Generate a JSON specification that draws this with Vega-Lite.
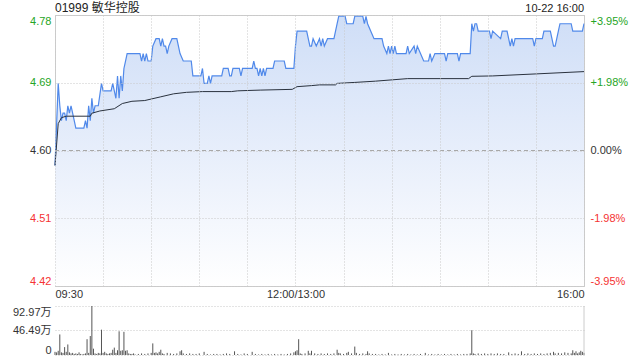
{
  "$schema": "https://vega.github.io/schema/vega-lite/v6.json",
  "background": "white",
  "padding": {"left": 12, "top": 1, "right": 5, "bottom": 5},
  "config": {
    "font": "Liberation Sans, Arial, Noto Sans CJK SC, sans-serif",
    "view": {"stroke": "#cccccc"},
    "axis": {"labelFontSize": 11, "labelColor": "#333333", "gridColor": "#c8c8c8", "gridDash": [1, 2], "ticks": false, "domain": false, "labelFont": "Liberation Sans, Arial, Noto Sans CJK SC, sans-serif"}
  },
  "datasets": {
    "price": [
      {"t":0,"p":4.58},{"t":2,"p":4.69},{"t":3,"p":4.66},{"t":4,"p":4.64},{"t":5,"p":4.65},{"t":6,"p":4.65},{"t":7,"p":4.64},{"t":8,"p":4.66},{"t":9,"p":4.65},{"t":10,"p":4.66},{"t":11,"p":4.65},{"t":12,"p":4.64},{"t":13,"p":4.63},{"t":18,"p":4.63},{"t":19,"p":4.64},{"t":20,"p":4.63},{"t":21,"p":4.66},{"t":22,"p":4.64},{"t":23,"p":4.67},{"t":24,"p":4.65},{"t":25,"p":4.66},{"t":27,"p":4.66},{"t":29,"p":4.69},{"t":30,"p":4.68},{"t":35,"p":4.68},{"t":36,"p":4.69},{"t":37,"p":4.68},{"t":38,"p":4.67},{"t":39,"p":4.70},{"t":40,"p":4.67},{"t":41,"p":4.70},{"t":42,"p":4.68},{"t":43,"p":4.71},{"t":44,"p":4.72},{"t":45,"p":4.73},{"t":53,"p":4.73},{"t":54,"p":4.72},{"t":55,"p":4.73},{"t":56,"p":4.72},{"t":57,"p":4.73},{"t":58,"p":4.72},{"t":60,"p":4.72},{"t":61,"p":4.74},{"t":63,"p":4.75},{"t":65,"p":4.75},{"t":66,"p":4.74},{"t":67,"p":4.75},{"t":68,"p":4.74},{"t":69,"p":4.74},{"t":70,"p":4.73},{"t":71,"p":4.74},{"t":73,"p":4.75},{"t":76,"p":4.75},{"t":77,"p":4.74},{"t":78,"p":4.73},{"t":80,"p":4.72},{"t":85,"p":4.72},{"t":86,"p":4.70},{"t":91,"p":4.70},{"t":92,"p":4.71},{"t":93,"p":4.69},{"t":95,"p":4.69},{"t":96,"p":4.70},{"t":97,"p":4.69},{"t":98,"p":4.70},{"t":104,"p":4.70},{"t":105,"p":4.71},{"t":108,"p":4.71},{"t":109,"p":4.70},{"t":110,"p":4.70},{"t":111,"p":4.71},{"t":115,"p":4.71},{"t":116,"p":4.70},{"t":117,"p":4.71},{"t":123,"p":4.71},{"t":124,"p":4.72},{"t":125,"p":4.71},{"t":126,"p":4.71},{"t":127,"p":4.70},{"t":128,"p":4.71},{"t":129,"p":4.70},{"t":130,"p":4.71},{"t":131,"p":4.70},{"t":132,"p":4.71},{"t":136,"p":4.71},{"t":137,"p":4.72},{"t":143,"p":4.72},{"t":144,"p":4.71},{"t":149,"p":4.71},{"t":150,"p":4.74},{"t":151,"p":4.76},{"t":157,"p":4.76},{"t":158,"p":4.75},{"t":159,"p":4.74},{"t":160,"p":4.74},{"t":161,"p":4.75},{"t":163,"p":4.74},{"t":165,"p":4.75},{"t":166,"p":4.74},{"t":167,"p":4.75},{"t":168,"p":4.74},{"t":170,"p":4.75},{"t":174,"p":4.75},{"t":175,"p":4.76},{"t":176,"p":4.77},{"t":177,"p":4.78},{"t":181,"p":4.78},{"t":182,"p":4.77},{"t":186,"p":4.77},{"t":187,"p":4.78},{"t":192,"p":4.78},{"t":193,"p":4.77},{"t":194,"p":4.78},{"t":195,"p":4.77},{"t":197,"p":4.76},{"t":199,"p":4.75},{"t":204,"p":4.75},{"t":205,"p":4.74},{"t":207,"p":4.73},{"t":208,"p":4.74},{"t":209,"p":4.73},{"t":210,"p":4.74},{"t":211,"p":4.73},{"t":212,"p":4.74},{"t":213,"p":4.73},{"t":219,"p":4.73},{"t":220,"p":4.74},{"t":221,"p":4.73},{"t":224,"p":4.74},{"t":225,"p":4.73},{"t":226,"p":4.74},{"t":228,"p":4.73},{"t":230,"p":4.72},{"t":233,"p":4.72},{"t":234,"p":4.73},{"t":235,"p":4.72},{"t":237,"p":4.73},{"t":243,"p":4.73},{"t":244,"p":4.72},{"t":245,"p":4.73},{"t":251,"p":4.73},{"t":252,"p":4.72},{"t":253,"p":4.73},{"t":259,"p":4.73},{"t":260,"p":4.77},{"t":261,"p":4.76},{"t":262,"p":4.77},{"t":263,"p":4.77},{"t":264,"p":4.76},{"t":271,"p":4.76},{"t":272,"p":4.75},{"t":273,"p":4.76},{"t":278,"p":4.75},{"t":279,"p":4.76},{"t":282,"p":4.76},{"t":283,"p":4.75},{"t":284,"p":4.74},{"t":285,"p":4.75},{"t":286,"p":4.74},{"t":287,"p":4.75},{"t":298,"p":4.75},{"t":299,"p":4.74},{"t":300,"p":4.75},{"t":304,"p":4.75},{"t":305,"p":4.76},{"t":309,"p":4.76},{"t":310,"p":4.75},{"t":311,"p":4.74},{"t":312,"p":4.74},{"t":313,"p":4.75},{"t":314,"p":4.76},{"t":315,"p":4.77},{"t":322,"p":4.77},{"t":323,"p":4.76},{"t":329,"p":4.76},{"t":330,"p":4.77}
    ],
    "avg": [
      {"t":0,"a":4.58},{"t":2,"a":4.636},{"t":4,"a":4.644},{"t":7,"a":4.646},{"t":22,"a":4.646},{"t":23,"a":4.65},{"t":28,"a":4.653},{"t":37,"a":4.656},{"t":42,"a":4.663},{"t":48,"a":4.666},{"t":56,"a":4.667},{"t":60,"a":4.669},{"t":66,"a":4.672},{"t":74,"a":4.676},{"t":82,"a":4.678},{"t":92,"a":4.679},{"t":110,"a":4.679},{"t":114,"a":4.68},{"t":128,"a":4.681},{"t":148,"a":4.682},{"t":151,"a":4.6856},{"t":160,"a":4.687},{"t":165,"a":4.688},{"t":175,"a":4.688},{"t":176,"a":4.69},{"t":187,"a":4.6913},{"t":200,"a":4.693},{"t":220,"a":4.6964},{"t":258,"a":4.6964},{"t":260,"a":4.6995},{"t":273,"a":4.70},{"t":300,"a":4.7027},{"t":330,"a":4.7058}
    ],
    "vol": [
      {"t":0,"v":6},{"t":1,"v":5},{"t":2,"v":8},{"t":3,"v":39},{"t":4,"v":5},{"t":5,"v":4},{"t":6,"v":15},{"t":7,"v":6},{"t":8,"v":20},{"t":9,"v":5},{"t":10,"v":3},{"t":11,"v":4},{"t":12,"v":2},{"t":13,"v":3},{"t":14,"v":2},{"t":15,"v":5},{"t":16,"v":2},{"t":17,"v":1},{"t":18,"v":2},{"t":19,"v":3},{"t":20,"v":30},{"t":21,"v":4},{"t":22,"v":36},{"t":23,"v":92.97},{"t":24,"v":12},{"t":25,"v":3},{"t":26,"v":2},{"t":27,"v":4},{"t":28,"v":3},{"t":29,"v":48},{"t":30,"v":4},{"t":31,"v":6},{"t":32,"v":3},{"t":33,"v":2},{"t":34,"v":3},{"t":35,"v":4},{"t":36,"v":10},{"t":37,"v":14},{"t":38,"v":4},{"t":39,"v":9},{"t":40,"v":45},{"t":41,"v":8},{"t":42,"v":9},{"t":43,"v":44},{"t":44,"v":8},{"t":45,"v":9},{"t":46,"v":3},{"t":47,"v":2},{"t":48,"v":2},{"t":49,"v":3},{"t":50,"v":1},{"t":52,"v":2},{"t":54,"v":3},{"t":56,"v":2},{"t":58,"v":3},{"t":60,"v":4},{"t":61,"v":22},{"t":62,"v":4},{"t":63,"v":5},{"t":64,"v":3},{"t":65,"v":6},{"t":66,"v":10},{"t":67,"v":3},{"t":68,"v":2},{"t":70,"v":4},{"t":72,"v":3},{"t":74,"v":2},{"t":76,"v":3},{"t":78,"v":7},{"t":79,"v":9},{"t":80,"v":3},{"t":82,"v":2},{"t":84,"v":3},{"t":86,"v":2},{"t":88,"v":2},{"t":90,"v":3},{"t":93,"v":6},{"t":95,"v":2},{"t":97,"v":1},{"t":99,"v":2},{"t":101,"v":2},{"t":103,"v":1},{"t":105,"v":2},{"t":107,"v":3},{"t":109,"v":2},{"t":112,"v":7},{"t":114,"v":2},{"t":116,"v":1},{"t":118,"v":3},{"t":120,"v":2},{"t":123,"v":6},{"t":125,"v":2},{"t":127,"v":1},{"t":129,"v":2},{"t":131,"v":1},{"t":133,"v":2},{"t":135,"v":1},{"t":137,"v":2},{"t":139,"v":1},{"t":141,"v":2},{"t":143,"v":1},{"t":145,"v":2},{"t":147,"v":3},{"t":149,"v":5},{"t":150,"v":7},{"t":151,"v":9},{"t":152,"v":30},{"t":153,"v":3},{"t":154,"v":2},{"t":156,"v":3},{"t":158,"v":8},{"t":159,"v":3},{"t":160,"v":8},{"t":162,"v":3},{"t":164,"v":2},{"t":166,"v":3},{"t":168,"v":2},{"t":170,"v":3},{"t":172,"v":2},{"t":174,"v":3},{"t":176,"v":10},{"t":177,"v":4},{"t":178,"v":3},{"t":180,"v":2},{"t":182,"v":4},{"t":183,"v":6},{"t":185,"v":3},{"t":187,"v":16},{"t":188,"v":4},{"t":190,"v":2},{"t":192,"v":3},{"t":194,"v":2},{"t":195,"v":7},{"t":196,"v":3},{"t":198,"v":2},{"t":200,"v":2},{"t":202,"v":1},{"t":204,"v":2},{"t":206,"v":1},{"t":208,"v":4},{"t":210,"v":1},{"t":212,"v":2},{"t":214,"v":1},{"t":216,"v":2},{"t":218,"v":1},{"t":220,"v":2},{"t":222,"v":1},{"t":224,"v":2},{"t":226,"v":1},{"t":228,"v":2},{"t":231,"v":4},{"t":233,"v":1},{"t":235,"v":2},{"t":237,"v":1},{"t":239,"v":2},{"t":241,"v":1},{"t":243,"v":2},{"t":245,"v":1},{"t":247,"v":2},{"t":249,"v":1},{"t":251,"v":2},{"t":253,"v":1},{"t":255,"v":2},{"t":257,"v":2},{"t":259,"v":3},{"t":260,"v":47},{"t":261,"v":3},{"t":262,"v":2},{"t":264,"v":3},{"t":266,"v":2},{"t":268,"v":3},{"t":270,"v":2},{"t":272,"v":3},{"t":274,"v":2},{"t":276,"v":3},{"t":278,"v":2},{"t":280,"v":2},{"t":283,"v":5},{"t":285,"v":2},{"t":287,"v":3},{"t":289,"v":2},{"t":291,"v":7},{"t":293,"v":2},{"t":295,"v":3},{"t":297,"v":2},{"t":299,"v":3},{"t":301,"v":2},{"t":303,"v":3},{"t":305,"v":2},{"t":307,"v":3},{"t":309,"v":4},{"t":311,"v":6},{"t":312,"v":3},{"t":314,"v":4},{"t":316,"v":3},{"t":318,"v":5},{"t":320,"v":4},{"t":322,"v":3},{"t":323,"v":9},{"t":324,"v":4},{"t":325,"v":7},{"t":326,"v":3},{"t":327,"v":5},{"t":328,"v":8},{"t":329,"v":6},{"t":330,"v":4}
    ]
  },
  "spacing": 20,
  "bounds": "flush",
  "vconcat": [
    {
      "width": 529,
      "height": 271,
      "layer": [
        {
          "layer": [
            {
              "data": {"name": "price"},
              "mark": {"type": "area", "fill": {"gradient": "linear", "x1": 0, "y1": 0, "x2": 0, "y2": 1, "stops": [{"offset": 0, "color": "#cfdef7"}, {"offset": 0.5, "color": "#e7eefb"}, {"offset": 1, "color": "#ffffff"}]}},
              "encoding": {
                "x": {"field": "t", "type": "quantitative", "scale": {"domain": [0, 330], "nice": false, "zero": false},
                  "axis": {"title": null, "zindex": 1, "values": [0, 30, 60, 90, 120, 150, 180, 210, 240, 270, 300, 330], "grid": true, "labelFlush": true, "labelOverlap": false, "labelPadding": 2,
                    "labelExpr": "datum.value == 0 ? '09:30' : datum.value == 150 ? '12:00/13:00' : datum.value == 330 ? '16:00' : ''"}},
                "y": {"field": "p", "type": "quantitative", "scale": {"domain": [4.4183, 4.7817], "nice": false, "zero": false},
                  "axis": {"title": null, "zindex": 1, "values": [4.4183, 4.50915, 4.6, 4.69085, 4.7817], "format": ".2f", "grid": true, "labelFlush": true, "labelPadding": 4,
                    "labelColor": {"condition": [{"test": "datum.value > 4.605", "value": "#25a525"}, {"test": "datum.value < 4.595", "value": "#f53333"}], "value": "#333333"}}},
                "y2": {"datum": 4.4183}
              }
            },
            {
              "data": {"name": "price"},
              "mark": {"type": "line", "color": "#5089ea", "strokeWidth": 1.2},
              "encoding": {"x": {"field": "t", "type": "quantitative"}, "y": {"field": "p", "type": "quantitative"}}
            },
            {
              "data": {"name": "avg"},
              "mark": {"type": "line", "color": "#2a323e", "strokeWidth": 1},
              "encoding": {"x": {"field": "t", "type": "quantitative"}, "y": {"field": "a", "type": "quantitative"}}
            },
            {
              "data": {"values": [{}]},
              "mark": {"type": "rule", "color": "#a8a8a8", "strokeDash": [4, 3]},
              "encoding": {"y": {"datum": 4.6}}
            },
            {
              "data": {"values": [{}]},
              "mark": {"type": "text", "text": "01999 敏华控股", "align": "left", "baseline": "alphabetic", "dy": -3, "fontSize": 12, "color": "#222222"},
              "encoding": {"x": {"datum": 0}, "y": {"datum": 4.7817}}
            },
            {
              "data": {"values": [{}]},
              "mark": {"type": "text", "text": "10-22 16:00", "align": "right", "baseline": "alphabetic", "dy": -3, "fontSize": 11, "color": "#222222"},
              "encoding": {"x": {"datum": 330}, "y": {"datum": 4.7817}}
            }
          ]
        },
        {
          "data": {"values": [{}]},
          "mark": {"type": "rule", "opacity": 0},
          "encoding": {
            "y": {"datum": 0, "type": "quantitative", "scale": {"domain": [-3.95, 3.95], "nice": false, "zero": false},
              "axis": {"orient": "right", "title": null, "grid": false, "values": [-3.95, -1.976, 0, 1.976, 3.95], "labelFlush": true, "labelPadding": 6,
                "labelExpr": "datum.value > 0 ? '+' + format(datum.value, '.2f') + '%' : datum.value < 0 ? '-' + format(-datum.value, '.2f') + '%' : '0.00%'",
                "labelColor": {"condition": [{"test": "datum.value > 0.01", "value": "#25a525"}, {"test": "datum.value < -0.01", "value": "#f53333"}], "value": "#333333"}}}
          }
        }
      ],
      "resolve": {"scale": {"y": "independent"}, "axis": {"y": "independent"}}
    },
    {
      "width": 529,
      "height": 49,
      "view": {"stroke": null},
      "data": {"name": "vol"},
      "layer": [
        {
          "mark": {"type": "rule", "color": "#555555", "strokeWidth": 1},
          "encoding": {
            "x": {"field": "t", "type": "quantitative", "scale": {"domain": [0, 330], "nice": false, "zero": false}, "axis": null},
            "y": {"field": "v", "type": "quantitative", "scale": {"domain": [0, 92.97], "nice": false},
              "axis": {"title": null, "values": [0, 46.49, 92.97], "grid": true, "labelFlush": true, "labelPadding": 4,
                "labelExpr": "datum.value == 0 ? '0' : format(datum.value, '.2f') + '万'"}},
            "y2": {"datum": 0}
          }
        },
        {
          "data": {"values": [{}]},
          "mark": {"type": "rule", "color": "#cccccc"},
          "encoding": {"x": {"datum": 330}}
        }
      ]
    }
  ]
}
